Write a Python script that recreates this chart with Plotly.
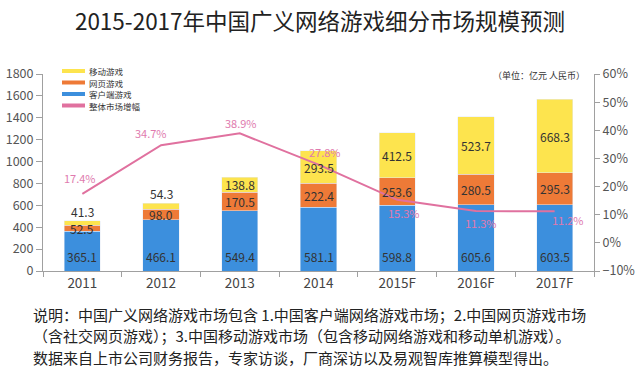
import plotly.graph_objects as go

years = ["2011", "2012", "2013", "2014", "2015F", "2016F", "2017F"]
client = [365.1, 466.1, 549.4, 581.1, 598.8, 605.6, 603.5]
web = [52.5, 98.0, 170.5, 222.4, 253.6, 280.5, 295.3]
mobile = [41.3, 54.3, 138.8, 293.5, 412.5, 523.7, 668.3]
growth = [17.4, 34.7, 38.9, 27.8, 15.3, 11.3, 11.2]

series_names = ["移动游戏", "网页游戏", "客户端游戏", "整体市场增幅"]
title_text = "2015-2017年中国广义网络游戏细分市场规模预测"
unit_text = "（单位：亿元 人民币）"
notes = [
    "说明：中国广义网络游戏市场包含 1.中国客户端网络游戏市场；2.中国网页游戏市场",
    "（含社交网页游戏）；3.中国移动游戏市场（包含移动网络游戏和移动单机游戏）。",
    "数据来自上市公司财务报告，专家访谈，厂商深访以及易观智库推算模型得出。",
]

C_BLUE = "#3c8fdd"
C_ORANGE = "#ee7a37"
C_YELLOW = "#fde44e"
C_PINK = "#e0719f"
C_PINK_TXT = "#e07aae"
FONT = "Noto Sans CJK SC"
TXT = "#333333"

fig = go.Figure()
fig.add_trace(go.Bar(x=years, y=client, name=series_names[2], marker_color=C_BLUE,
                     showlegend=False, width=0.46))
fig.add_trace(go.Bar(x=years, y=web, name=series_names[1], marker_color=C_ORANGE,
                     showlegend=False, width=0.46))
fig.add_trace(go.Bar(x=years, y=mobile, name=series_names[0], marker_color=C_YELLOW,
                     showlegend=False, width=0.46))
fig.add_trace(go.Scatter(x=years, y=growth, yaxis="y2", mode="lines", name=series_names[3],
                         line=dict(color=C_PINK, width=2), showlegend=False))

ann = []
# bar value labels (x given as category index on the category axis)
for i, yr in enumerate(years):
    ann.append(dict(x=i, y=0, xref="x", yref="y", text=f"{client[i]:.1f}", showarrow=False,
                    yanchor="bottom", yshift=4, font=dict(size=12, color=TXT, family=FONT)))
    ann.append(dict(x=i, y=client[i] + web[i] / 2, xref="x", yref="y", text=f"{web[i]:.1f}",
                    showarrow=False, yanchor="middle", font=dict(size=12, color=TXT, family=FONT)))
    top = client[i] + web[i]
    if mobile[i] < 100:
        ann.append(dict(x=i, y=top + mobile[i], xref="x", yref="y", text=f"{mobile[i]:.1f}",
                        showarrow=False, yanchor="bottom", yshift=-1,
                        font=dict(size=12, color=TXT, family=FONT)))
    else:
        ann.append(dict(x=i, y=top + mobile[i] / 2, xref="x", yref="y", text=f"{mobile[i]:.1f}",
                        showarrow=False, yanchor="middle", font=dict(size=12, color=TXT, family=FONT)))

# growth labels
shifts = [(-2, 16), (-10, 12), (1, 10), (6, 13), (7, -13), (5, -12), (13, -9)]
for i, yr in enumerate(years):
    ann.append(dict(x=i, y=growth[i], xref="x", yref="y2", text=f"{growth[i]:.1f}%",
                    showarrow=False, xshift=shifts[i][0], yshift=shifts[i][1],
                    font=dict(size=11, color=C_PINK_TXT, family=FONT)))

# manual legend
leg_colors = [C_YELLOW, C_ORANGE, C_BLUE, C_PINK]
shapes = []
pw, ph = 551.0, 197.0
for k, (nm, col) in enumerate(zip(series_names, leg_colors)):
    ypx = 71 + 11.5 * k
    yp = (271 - ypx) / ph
    shapes.append(dict(type="line", xref="paper", yref="paper", x0=(62 - 43) / pw, x1=(85 - 43) / pw,
                       y0=yp, y1=yp, line=dict(color=col, width=4)))
    ann.append(dict(x=(87 - 43) / pw, y=yp, xref="paper", yref="paper", text=nm, showarrow=False,
                    xanchor="left", yanchor="middle", font=dict(size=8.5, color=TXT, family=FONT)))

ann.append(dict(x=(587 - 43) / pw, y=(271 - 75) / ph, xref="paper", yref="paper", text=unit_text,
                showarrow=False, xanchor="right", yanchor="middle",
                font=dict(size=9, color=TXT, family=FONT)))

for k, line in enumerate(notes):
    ypx = 314 + 21.5 * k
    ann.append(dict(x=(31 - 43) / pw, y=(271 - ypx) / ph, xref="paper", yref="paper", text=line,
                    showarrow=False, xanchor="left", yanchor="middle",
                    font=dict(size=15, color="#222222", family=FONT)))

axis_col = "#a0a0a0"
fig.update_layout(
    barmode="stack",
    width=640, height=384,
    margin=dict(l=43, r=46, t=74, b=113, autoexpand=False),
    paper_bgcolor="white", plot_bgcolor="white",
    title=dict(text=title_text, x=0.5, xanchor="center", y=1 - 22 / 384, yanchor="middle",
               font=dict(size=22.5, color="#222222", family=FONT)),
    xaxis=dict(type="category", range=[-0.5, len(years) - 0.5], showline=True, linecolor=axis_col,
               ticks="outside", tickson="boundaries", ticklen=5, tickcolor=axis_col, showgrid=False,
               automargin=False, tickfont=dict(size=13.5, color="#444444", family=FONT)),
    yaxis=dict(range=[0, 1800], dtick=200, showline=True, linecolor=axis_col, ticks="outside",
               ticklen=6, tickcolor=axis_col, showgrid=False, zeroline=False, automargin=False,
               tickfont=dict(size=12.5, color="#555555", family=FONT)),
    yaxis2=dict(range=[-10, 60], dtick=10, overlaying="y", side="right", showline=True,
                linecolor=axis_col, ticks="outside", ticklen=5, tickcolor=axis_col,
                ticksuffix="%", showgrid=False, zeroline=False, automargin=False,
                tickfont=dict(size=12.5, color="#555555", family=FONT)),
    annotations=ann,
    shapes=shapes,
    showlegend=False,
)

fig.write_html("out.html", config={"displayModeBar": False},
               post_script="document.body.style.margin='0';")
